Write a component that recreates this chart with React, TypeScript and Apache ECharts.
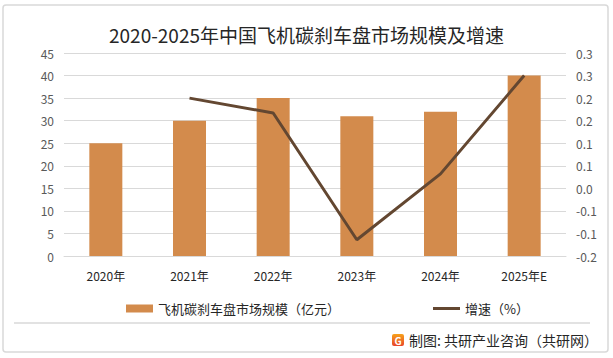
import React, { useEffect, useRef } from "react";
import * as echarts from "echarts";

const categories = ["2020年", "2021年", "2022年", "2023年", "2024年", "2025年E"];
const marketSize = [25, 30, 35, 31, 32, 40];
const growthRate = [null, 0.2, 0.167, -0.114, 0.032, 0.25];
const leftTicks = { min: 0, max: 45, interval: 5 };
const rightTicks = { min: -0.15, max: 0.3, interval: 0.05 };
const rightTickLabels = ["-0.2", "-0.1", "-0.1", "0.0", "0.1", "0.1", "0.2", "0.2", "0.3", "0.3"];
const barName = "飞机碳刹车盘市场规模（亿元）";
const lineName = "增速（%）";
const titleText = "2020-2025年中国飞机碳刹车盘市场规模及增速";
const sourceText = "制图: 共研产业咨询（共研网）";

const FONT = "'Noto Sans CJK SC', 'Noto Sans', sans-serif";

export default function App() {
  const ref = useRef<HTMLDivElement>(null);
  useEffect(() => {
    if (!ref.current) return;
    const chart = echarts.init(ref.current, undefined, { renderer: "svg" });
    chart.setOption({
      animation: false,
      backgroundColor: "#ffffff",
      textStyle: { fontFamily: FONT },
      title: {
        text: titleText,
        left: "center",
        top: 20,
        textStyle: { fontSize: 19, fontWeight: "normal", color: "#262626", fontFamily: FONT },
      },
      grid: { left: 64, right: 47, top: 53, bottom: 102, containLabel: false },
      legend: [
        {
          data: [barName],
          left: 121,
          top: 297,
          itemWidth: 27,
          itemHeight: 8,
          icon: "rect",
          textStyle: { fontSize: 13, color: "#262626", fontFamily: FONT },
        },
        {
          data: [lineName],
          left: 428,
          top: 297,
          itemWidth: 27,
          itemHeight: 3,
          icon: "rect",
          textStyle: { fontSize: 13, color: "#262626", fontFamily: FONT },
        },
      ],
      xAxis: {
        type: "category",
        data: categories,
        axisTick: { show: false },
        axisLine: { show: true, lineStyle: { color: "#d9d9d9" } },
        axisLabel: { fontSize: 12, color: "#262626", margin: 13, fontFamily: FONT },
      },
      yAxis: [
        {
          type: "value",
          min: leftTicks.min,
          max: leftTicks.max,
          interval: leftTicks.interval,
          axisLine: { show: false },
          axisTick: { show: false },
          axisLabel: { fontSize: 12, color: "#595959", margin: 10, fontFamily: FONT },
          splitLine: { show: true, lineStyle: { color: "#d9d9d9", width: 1 } },
        },
        {
          type: "value",
          min: rightTicks.min,
          max: rightTicks.max,
          interval: rightTicks.interval,
          axisLine: { show: false },
          axisTick: { show: false },
          splitLine: { show: false },
          axisLabel: {
            fontSize: 12,
            color: "#595959",
            margin: 10,
            fontFamily: FONT,
            formatter: (v: number) => {
              const i = Math.round((v - rightTicks.min) / rightTicks.interval);
              return rightTickLabels[i] ?? "";
            },
          },
        },
      ],
      series: [
        {
          name: barName,
          type: "bar",
          data: marketSize,
          barWidth: 33,
          itemStyle: { color: "#d38b4c" },
        },
        {
          name: lineName,
          type: "line",
          yAxisIndex: 1,
          data: growthRate,
          symbol: "none",
          showSymbol: false,
          connectNulls: false,
          lineStyle: { color: "#634731", width: 3 },
          itemStyle: { color: "#634731" },
        },
      ],
      graphic: [
        {
          type: "rect",
          shape: { x: 3, y: 5, width: 605, height: 347, r: 3 },
          style: { fill: "none", stroke: "#d9d9d9", lineWidth: 1.5 },
          silent: true,
          z: -1,
        },
        {
          type: "line",
          shape: { x1: 14, y1: 323, x2: 590, y2: 323 },
          style: { stroke: "#d9d9d9", lineWidth: 1.5 },
          silent: true,
        },
        {
          type: "rect",
          shape: { x: 392, y: 334, width: 12, height: 12, r: 2 },
          style: {
            fill: new echarts.graphic.LinearGradient(0, 0, 0, 1, [
              { offset: 0, color: "#f7a21b" },
              { offset: 1, color: "#e8452a" },
            ]),
          },
          silent: true,
        },
        {
          type: "text",
          x: 398,
          y: 340,
          style: {
            text: "G",
            fill: "#ffffff",
            fontSize: 10,
            fontWeight: "bold",
            fontFamily: FONT,
            align: "center",
            verticalAlign: "middle",
          },
          silent: true,
        },
        {
          type: "text",
          x: 409,
          y: 340,
          style: {
            text: sourceText,
            fill: "#262626",
            fontSize: 14,
            fontFamily: FONT,
            align: "left",
            verticalAlign: "middle",
          },
          silent: true,
        },
      ],
    });
    return () => chart.dispose();
  }, []);
  return (
    <div
      ref={ref}
      style={{ position: "fixed", left: 0, top: 0, width: 613, height: 358 }}
    />
  );
}
